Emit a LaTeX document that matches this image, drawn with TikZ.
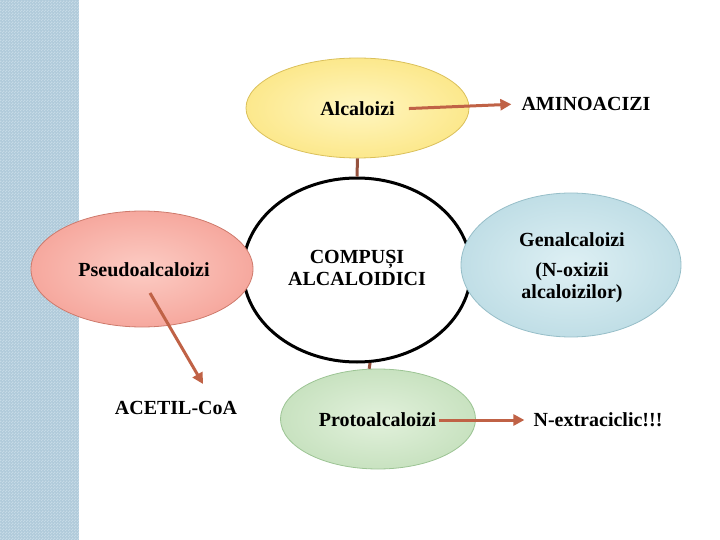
\documentclass[tikz,border=0pt]{standalone}
\usepackage{fontspec}
\setmainfont{Liberation Serif}
\usetikzlibrary{shapes.geometric,arrows.meta,patterns}
\definecolor{stripe}{RGB}{176,202,218}
\definecolor{stripel}{RGB}{198,218,230}
\definecolor{arrc}{RGB}{192,98,70}
\definecolor{linkc}{RGB}{150,82,62}
\definecolor{yin}{RGB}{255,246,192}\definecolor{yout}{RGB}{252,232,140}\definecolor{ybd}{RGB}{218,192,90}
\definecolor{rin}{RGB}{252,204,196}\definecolor{rout}{RGB}{246,168,158}\definecolor{rbd}{RGB}{206,122,108}
\definecolor{bin}{RGB}{222,240,244}\definecolor{bout}{RGB}{192,222,230}\definecolor{bbd}{RGB}{150,190,200}
\definecolor{gin}{RGB}{226,241,220}\definecolor{gout}{RGB}{200,226,192}\definecolor{gbd}{RGB}{156,196,148}
\pgfdeclarepatternformonly{finechk}{\pgfpointorigin}{\pgfqpoint{3pt}{3pt}}{\pgfqpoint{3pt}{3pt}}{%
  \pgfpathrectangle{\pgfpointorigin}{\pgfqpoint{1.5pt}{1.5pt}}%
  \pgfpathrectangle{\pgfqpoint{1.5pt}{1.5pt}}{\pgfqpoint{1.5pt}{1.5pt}}%
  \pgfusepath{fill}}
\tikzset{
  blob/.style={ellipse, inner sep=0pt, line width=0.8pt},
  lbl/.style={font=\fontsize{20}{22}\selectfont\bfseries, inner sep=3pt, align=center},
  arr/.style={draw=arrc, line width=3pt, -{Triangle[length=11pt,width=11pt]}},
  link/.style={draw=linkc, line width=3pt}
}
\begin{document}
\begin{tikzpicture}[x=1pt,y=-1pt]
\useasboundingbox (0,0) rectangle (720,540);
\fill[stripe] (0,0) rectangle (79,540);
\fill[pattern=finechk, pattern color=stripel] (0,0) rectangle (79,540);
% ellipses
\node[blob, draw=ybd, inner color=yin, outer color=yout, minimum width=223pt, minimum height=100pt] (alc) at (357.5,108) {};
\node[blob, draw=black, line width=3pt, fill=white, minimum width=228pt, minimum height=184pt] (comp) at (357,270) {};
\node[blob, draw=rbd, inner color=rin, outer color=rout, minimum width=222pt, minimum height=116pt] (pseudo) at (142,269) {};
\node[blob, draw=bbd, inner color=bin, outer color=bout, minimum width=220pt, minimum height=144pt] (gen) at (571,265) {};
\node[blob, draw=gbd, inner color=gin, outer color=gout, minimum width=195pt, minimum height=100pt] (proto) at (378,419) {};
% texts
\node[lbl] (alct) at (357.5,109) {Alcaloizi};
\node[lbl] (amino) at (586,104) {AMINOACIZI};
\node[lbl] (compt) at (357,268) {COMPUȘI\\ALCALOIDICI};
\node[lbl] (pseudot) at (144,270) {Pseudoalcaloizi};
\node[lbl] (acetil) at (176,408) {ACETIL-CoA};
\node[lbl] (gent) at (572,268) {Genalcaloizi\\[8pt](N-oxizii\\alcaloizilor)};
\node[lbl] (protot) at (377.5,420) {Protoalcaloizi};
\node[lbl] (next) at (598,420) {N-extraciclic!!!};
% connectors
\draw[link] (alc.south) -- (comp.north);
\draw[link] (comp.-82) -- (proto.100);
\draw[arr, shorten <=11pt, shorten >=7pt] (alct.east) -- (amino.west);
\draw[arr, shorten <=0pt, shorten >=6pt] (protot.east) -- (next.west);
\coordinate (pa) at (150,293);
\coordinate (pb) at (203,384);
\draw[arr] (pa) -- (pb);
\end{tikzpicture}
\end{document}
